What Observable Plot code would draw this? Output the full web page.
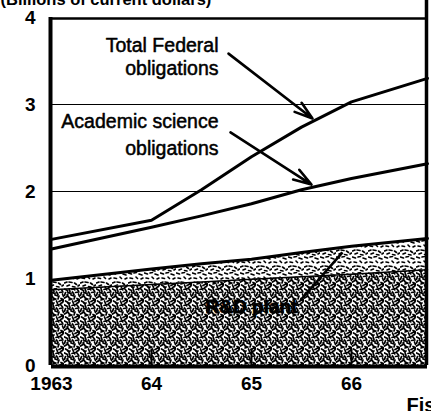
<!DOCTYPE html>
<html>
<head>
<meta charset="utf-8">
<script src="https://cdn.jsdelivr.net/npm/d3@7"></script>
<script src="https://cdn.jsdelivr.net/npm/@observablehq/plot@0.6"></script>
<style>
  html, body { margin: 0; padding: 0; background: #fff; overflow: hidden; }
</style>
</head>
<body>
<div id="chart"></div>
<script>
// Fiscal years (x) and values in billions of current dollars (y)
const years = [1963, 1964, 1964.5, 1965, 1965.5, 1966, 1966.76];
const totalFederal = [1.45, 1.67, 2.02, 2.40, 2.74, 3.03, 3.30];
const academicScience = [1.34, 1.59, 1.72, 1.86, 2.02, 2.15, 2.32];
const rdPlantTop = [0.98, 1.11, 1.17, 1.22, 1.30, 1.37, 1.46];
const rdTop = [0.87, 0.93, 0.96, 0.99, 1.02, 1.05, 1.10];

const yTicks = [0, 1, 2, 3, 4];
const gridValues = [2, 3];
const xTicks = [1963, 1964, 1965, 1966];
const xTickLabels = ["1963", "64", "65", "66"];

const titleText = "(Billions of current dollars)";
const xTitleText = "Fiscal year";
const labelLines = ["Total Federal", "obligations", "Academic science", "obligations"];
const labelX = [1964.67, 1964.67, 1964.67, 1964.67];
const labelY = [3.60, 3.335, 2.725, 2.415];
const rdLabel = "R&D plant";

// arrows from labels to lines (data units)
const arrowFrom = [[1964.77, 3.585], [1964.79, 2.68]];
const arrowTo = [[1965.61, 2.84], [1965.60, 2.08]];
const pointerFrom = [1965.49, 0.75];
const pointerTo = [1965.91, 1.30];

const rows = years.map((yr, i) => ({
  year: yr,
  total: totalFederal[i],
  academic: academicScience[i],
  plant: rdPlantTop[i],
  rd: rdTop[i]
}));

const sans = "'Liberation Sans', Arial, sans-serif";

const chart = Plot.plot({
  width: 431,
  height: 411,
  marginLeft: 51,
  marginRight: 4,
  marginTop: 17,
  marginBottom: 46,
  x: { domain: [1963, 1966.76] },
  y: { domain: [0, 4] },
  style: { fontFamily: sans, background: "#fff", color: "#000" },
  marks: [
    // stippled R&D area and R&D plant band
    Plot.areaY(rows, { x: "year", y1: 0, y2: "rd", fill: "url(#stipple)" }),
    Plot.areaY(rows, { x: "year", y1: "rd", y2: "plant", fill: "url(#stippleLight)" }),
    // gridlines
    Plot.ruleY(gridValues, { stroke: "#000", strokeWidth: 1.1 }),
    // lines
    Plot.line(rows, { x: "year", y: "rd", stroke: "#000", strokeWidth: 1.5 }),
    Plot.line(rows, { x: "year", y: "plant", stroke: "#000", strokeWidth: 3 }),
    Plot.line(rows, { x: "year", y: "academic", stroke: "#000", strokeWidth: 3 }),
    Plot.line(rows, { x: "year", y: "total", stroke: "#000", strokeWidth: 3 }),
    // frame
    Plot.ruleX([1963], { y1: 0, y2: 4, stroke: "#000", strokeWidth: 4, dx: -1 }),
    Plot.ruleY([4], { stroke: "#000", strokeWidth: 2.5, dy: 1 }),
    Plot.ruleY([0], { stroke: "#000", strokeWidth: 4, dy: 1 }),
    Plot.ruleX([1966.76], { y1: 0, y2: 4.2, stroke: "#000", strokeWidth: 3.5, dx: -1 }),
    // inward ticks
    Plot.ruleX(xTicks.slice(1), { y1: 0, y2: 0.19, stroke: "#000", strokeWidth: 2 }),
    // axes
    Plot.axisY(yTicks, {
      tickSize: 0, tickPadding: 16, fontSize: 19, fontWeight: "bold",
      label: null, tickFormat: (d) => String(d)
    }),
    Plot.axisX(xTicks, {
      tickSize: 0, tickPadding: 11, fontSize: 19, fontWeight: "bold",
      label: null,
      tickFormat: (d) => xTickLabels[xTicks.indexOf(d)]
    }),
    // annotations
    Plot.text(labelLines, {
      x: (d, i) => labelX[i], y: (d, i) => labelY[i], text: (d) => d,
      textAnchor: "end", lineAnchor: "bottom", fontSize: 19.5,
      fill: "#000", stroke: "#000", strokeWidth: 0.5
    }),
    Plot.arrow([0, 1], {
      x1: (i) => arrowFrom[i][0], y1: (i) => arrowFrom[i][1],
      x2: (i) => arrowTo[i][0], y2: (i) => arrowTo[i][1],
      stroke: "#000", strokeWidth: 2.6, headLength: 11, headAngle: 35
    }),
    Plot.link([0], {
      x1: () => pointerFrom[0], y1: () => pointerFrom[1],
      x2: () => pointerTo[0], y2: () => pointerTo[1],
      stroke: "#000", strokeWidth: 2.6
    }),
    Plot.text([rdLabel], {
      x: 1965.0, y: 0.67, text: (d) => d, fontSize: 19, fontWeight: "bold",
      fill: "#000", stroke: "#000", strokeWidth: 0.8
    }),
    // cropped title and x title
    Plot.text([titleText], {
      frameAnchor: "top-left", dx: -51, dy: -13, text: (d) => d,
      textAnchor: "start", lineAnchor: "bottom", fontSize: 16.5, fontWeight: "bold"
    }),
    Plot.text([xTitleText], {
      frameAnchor: "bottom-left", dx: 355, dy: 46, text: (d) => d,
      textAnchor: "start", lineAnchor: "bottom", fontSize: 20, fontWeight: "bold"
    })
  ]
});

// Stipple patterns (style only)
const defs = document.createElementNS("http://www.w3.org/2000/svg", "defs");
defs.innerHTML = `
<pattern id="stipple" width="16" height="16" patternUnits="userSpaceOnUse">
  <rect width="16" height="16" fill="#fff"/>
  <path d="M0.5 1l3 1.5M5 0.5l1 3M8 1.5l3-1M12.5 0.5l2 2.5M1.5 4.5l-1 3M3.5 4l3 1.5M8.5 4l1.5 2.5M11.5 4.5l3.5-0.5M14.5 6l1 2.5M0.5 10l2.5-1.5M4 8l1.5 2.5M7 7l3 1M11 8l-1 3M13 10.5l2.5 1M1.5 13l2.5 1.5M5 12l3-1M8.5 13l1 2.5M11 13.5l3-1.5M14.5 14.5l1-2M6 15l-2 0.8M3 7l0.8-0.8M10 1l0.8 0.8M7 5l0 1M12.5 15.5l1-0.5M6.5 10.5l0.6 0.6"
        stroke="#000" stroke-width="1.7" stroke-linecap="round" fill="none"/>
</pattern>
<pattern id="stippleLight" width="16" height="16" patternUnits="userSpaceOnUse">
  <rect width="16" height="16" fill="#fff"/>
  <path d="M0.5 1l3 1M6 1l2.5-0.5M11 2l3 1M2 6l2.5 0.5M8 5l1.5 1.5M13 7l2-1M0.5 11l2.5-1M5 10l3 0.5M10.5 11l2 1.5M3 14l2.5-1M8.5 14.5l2.5 0.5M14 14l1.5-1"
        stroke="#000" stroke-width="1.6" stroke-linecap="round" fill="none"/>
</pattern>`;
chart.insertBefore(defs, chart.firstChild);

document.getElementById("chart").appendChild(chart);
</script>
</body>
</html>
